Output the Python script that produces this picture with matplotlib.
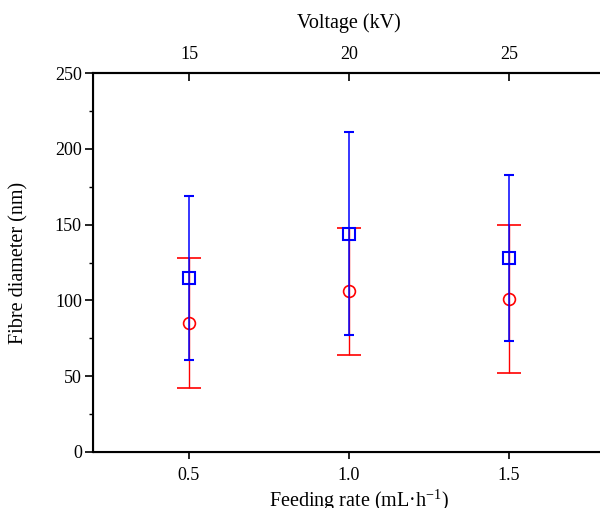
import numpy as np
from matplotlib import pyplot as plt
from matplotlib.ticker import MultipleLocator

plt.rcParams['font.family'] = ['Liberation Serif', 'DejaVu Serif']
plt.rcParams['mathtext.fontset'] = 'custom'
plt.rcParams['mathtext.rm'] = 'Liberation Serif'
plt.rcParams['mathtext.it'] = 'Liberation Serif:italic'

# data
feeding_rate = [0.5, 1.0, 1.5]
voltage = [15, 20, 25]
blue_mean = [115, 144, 128]
blue_err = [54, 67, 55]
red_mean = [85, 106, 101]
red_err = [43, 42, 49]

fig = plt.figure(figsize=(6.0, 5.08), dpi=100)
ax = fig.add_axes([93 / 600, 56 / 508, 512 / 600, 379 / 508])

# red series (circles) under the blue one
ax.errorbar(feeding_rate, red_mean, yerr=red_err, fmt='o', color='red',
            mfc='none', mec='red', ms=8.5, mew=1.2, elinewidth=1.0,
            capsize=8.5, capthick=1.2, zorder=2)
ax.errorbar(feeding_rate, blue_mean, yerr=blue_err, fmt='s', color='blue',
            mfc='none', mec='blue', ms=8, mew=1.5, elinewidth=1.1,
            capsize=3.5, capthick=1.2, zorder=3)

ax.set_xlim(0.2, 1.8)
ax.set_ylim(0, 250)
ax.set_xticks(feeding_rate)
ax.set_xticklabels(['{:.1f}'.format(v) for v in feeding_rate])
ax.yaxis.set_major_locator(MultipleLocator(50))
ax.yaxis.set_minor_locator(MultipleLocator(25))

ax.tick_params(axis='x', direction='out', length=5, width=1.2, pad=6,
               labelsize=13, top=False)
ax.tick_params(axis='y', which='major', direction='out', length=6, width=1.2,
               pad=2, labelsize=13, right=False)
ax.tick_params(axis='y', which='minor', direction='out', length=3, width=1.0,
               right=False)

for s in ax.spines.values():
    s.set_linewidth(1.5)
ax.spines['right'].set_visible(False)

ax.set_ylabel('Fibre diameter (nm)', fontsize=14.5)
ax.yaxis.set_label_coords(-0.126, 0.5)
ax.set_xlabel(r'Feeding rate (mL·h$^{\mathrm{-1}}$)', fontsize=14.5)
ax.xaxis.set_label_coords(0.52, -0.095)

# top axis: voltage
ax2 = ax.twiny()
ax2.set_xlim(ax.get_xlim())
ax2.set_xticks(feeding_rate)
ax2.set_xticklabels([str(v) for v in voltage])
ax2.tick_params(axis='x', direction='in', length=6, width=1.2, pad=7,
                labelsize=13)
ax2.spines['right'].set_visible(False)
ax2.spines['top'].set_linewidth(1.5)
ax2.set_xlabel('Voltage (kV)', fontsize=14.5, labelpad=13)

fig.savefig('out.png', dpi=100, facecolor='white')
